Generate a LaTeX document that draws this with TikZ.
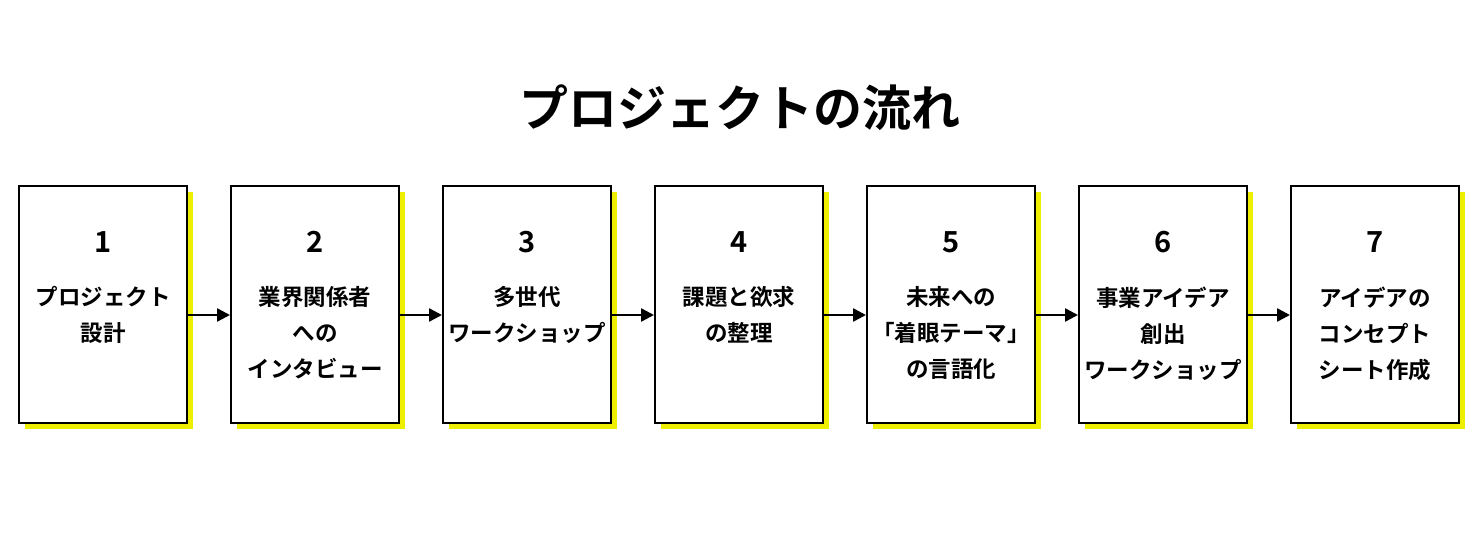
\documentclass[tikz,border=0pt]{standalone}
\usepackage{fontspec}
\setmainfont{Noto Sans CJK JP}[BoldFont={* Bold}]
\usetikzlibrary{positioning,arrows.meta}
\definecolor{marker}{HTML}{EEEE00}
\tikzset{
  stage/.style={draw,line width=2pt,fill=white,minimum width=168pt,minimum height=237pt,inner sep=0pt},
  shade/.style={fill=marker,draw=none,minimum width=168pt,minimum height=237pt,inner sep=0pt},
  num/.style={font=\fontsize{29}{30}\bfseries\selectfont},
  lbl/.style={font=\fontsize{22.5}{36}\bfseries\selectfont,align=center,anchor=north}
}
\begin{document}
\begin{tikzpicture}[x=1pt,y=-1pt]
  \useasboundingbox (0,0) rectangle (1480,540);
  \node[font=\fontsize{49}{52}\bfseries\selectfont] (title) at (740,108) {プロジェクトの流れ};
  \foreach \i/\txt in {1/{プロジェクト\\設計},2/{業界関係者\\への\\インタビュー},
      3/{多世代\\ワークショップ},4/{課題と欲求\\の整理},5/{未来への\\「着眼テーマ」\\の言語化},
      6/{事業アイデア\\創出\\ワークショップ},7/{アイデアの\\コンセプト\\シート作成}} {
    \node[shade] at (109+212*\i-212,310.5) {};
    \node[stage] (b\i) at (103+212*\i-212,304.5) {};
    \node[num] (n\i) at (103+212*\i-212,242) {\i};
    \node[lbl] (t\i) at (103+212*\i-212,283) {\txt};
  }
  \foreach \i [evaluate=\i as \j using int(\i+1)] in {1,...,6}
    \draw[-{Triangle[length=13pt,width=13pt]},line width=2.5pt]
      ([yshift=-10.5pt]b\i.east) -- ([yshift=-10.5pt]b\j.west);
\end{tikzpicture}
\end{document}
